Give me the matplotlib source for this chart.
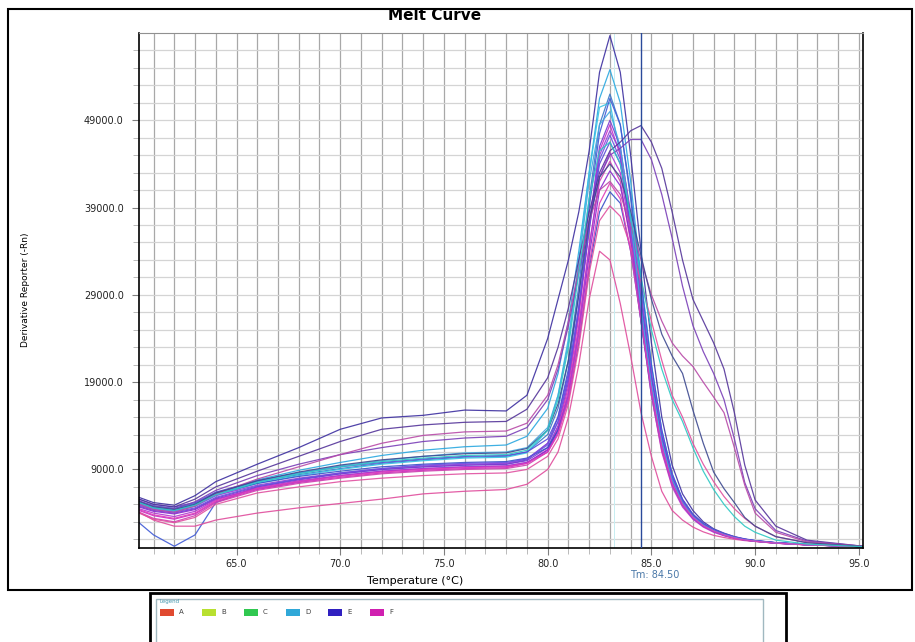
import matplotlib
matplotlib.use("Agg")
import matplotlib.pyplot as plt
from matplotlib.patches import Rectangle
import numpy as np

# temperature grid (deg C) shared by all wells
temps = [60.3, 61, 62, 63, 64, 66, 68, 70, 72, 74, 76, 78, 79, 80, 80.5, 81, 81.5, 82,
         82.5, 83, 83.5, 84, 84.5, 85, 85.5, 86, 86.5, 87, 87.5, 88, 88.5, 89, 89.5,
         90, 91, 92.5, 95.2]

# derivative reporter values, one list per well
w01 = [5800, 5200, 4900, 6000, 7600, 9600, 11500, 13600, 14900, 15200, 15800, 15700, 17500, 24000, 28500, 33000, 38500, 45500, 54500, 58700, 54500, 45000, 34000, 23500, 15000, 9500, 6200, 4300, 3000, 2200, 1700, 1300, 1000, 850, 600, 400, 150]
w02 = [5200, 4600, 4300, 5000, 6200, 7800, 8900, 9800, 10600, 11200, 11600, 11800, 12800, 16000, 20000, 26000, 34000, 43000, 51500, 54800, 51000, 42000, 31000, 21000, 13500, 8500, 5500, 3800, 2800, 2100, 1600, 1250, 1000, 850, 600, 400, 150]
w03 = [5400, 4800, 4500, 5100, 6300, 7600, 8400, 9100, 9700, 10100, 10400, 10500, 11000, 13000, 16000, 21500, 30000, 40000, 48500, 52000, 48500, 40000, 29500, 20000, 12800, 8000, 5300, 3700, 2700, 2000, 1550, 1200, 950, 800, 580, 380, 150]
w04 = [5000, 4500, 4200, 4800, 6000, 7400, 8300, 9000, 9600, 10000, 10300, 10400, 10900, 13500, 17500, 24000, 33000, 43000, 50500, 51000, 45000, 35500, 26000, 17500, 11500, 7500, 5000, 3500, 2600, 1950, 1500, 1150, 900, 780, 560, 370, 150]
w05 = [2900, 1500, 200, 1500, 5200, 7000, 7900, 8500, 9000, 9300, 9500, 9600, 10100, 12000, 15000, 20500, 29000, 39000, 47500, 51500, 48500, 40500, 30500, 21000, 13500, 8500, 5600, 3900, 2800, 2100, 1600, 1250, 1000, 820, 600, 390, 150]
w06 = [4800, 4300, 4000, 4500, 5700, 7000, 7800, 8500, 9000, 9300, 9500, 9600, 10000, 11500, 14000, 19000, 27000, 37000, 46000, 49000, 46000, 38000, 28500, 19500, 12500, 7800, 5200, 3600, 2650, 2000, 1550, 1200, 950, 800, 580, 380, 150]
w07 = [4300, 3700, 3300, 3900, 5300, 6700, 7500, 8100, 8600, 8900, 9100, 9200, 9700, 11300, 13800, 18500, 26500, 36500, 45500, 48500, 45000, 36500, 26500, 17500, 11000, 7000, 4700, 3300, 2400, 1800, 1400, 1100, 900, 760, 550, 360, 150]
w08 = [5100, 4600, 4300, 4800, 6000, 7200, 8000, 8600, 9100, 9400, 9600, 9700, 10200, 12000, 14500, 19500, 27500, 37000, 45000, 47800, 45500, 38500, 29000, 20000, 13000, 8200, 5400, 3700, 2700, 2050, 1600, 1250, 1000, 820, 600, 390, 150]
w09 = [5600, 5000, 4700, 5200, 6400, 7700, 8600, 9300, 9800, 10200, 10500, 10600, 11000, 12500, 15000, 20000, 27500, 36500, 44000, 46500, 44000, 37000, 28000, 19500, 12800, 8200, 5500, 3800, 2800, 2100, 1650, 1300, 1050, 850, 620, 400, 150]
w10 = [4100, 3400, 3000, 3700, 5200, 6600, 7400, 8000, 8500, 8800, 9000, 9100, 9500, 11000, 13500, 18000, 25500, 34500, 42000, 44300, 42000, 35000, 26000, 17500, 11200, 7200, 4900, 3400, 2500, 1900, 1450, 1150, 920, 780, 560, 370, 150]
w11 = [4700, 4200, 3900, 4400, 5600, 6800, 7600, 8300, 8800, 9100, 9300, 9400, 9800, 11200, 13500, 17500, 24500, 33500, 41000, 43200, 41500, 35500, 27000, 18500, 12000, 7700, 5200, 3600, 2650, 2000, 1550, 1200, 950, 800, 580, 380, 150]
w12 = [5300, 4800, 4500, 5000, 6200, 7400, 8200, 8800, 9300, 9600, 9800, 9900, 10300, 11500, 13500, 17000, 23500, 32000, 38500, 40800, 39500, 34000, 26000, 18000, 11800, 7600, 5100, 3600, 2650, 2000, 1550, 1200, 950, 800, 580, 380, 150]
w13 = [4000, 3300, 2900, 3500, 5000, 6300, 7000, 7600, 8000, 8300, 8500, 8600, 9000, 10500, 12500, 16500, 23000, 31500, 37500, 39200, 38000, 34500, 30500, 26000, 21500, 17500, 15000, 12000, 9600, 7600, 5900, 4500, 3400, 2500, 1300, 600, 180]
w14 = [4100, 3200, 2500, 2500, 3200, 4000, 4600, 5100, 5600, 6200, 6500, 6700, 7300, 9000, 11000, 15000, 21000, 28500, 34000, 33000, 28000, 22000, 15500, 10500, 6500, 4300, 3200, 2400, 1850, 1450, 1200, 1000, 850, 750, 550, 360, 150]
w15 = [4900, 4400, 4100, 4600, 5800, 7100, 7900, 8600, 9100, 9500, 9700, 9800, 10200, 11800, 14500, 19500, 27500, 37000, 44500, 47300, 44500, 36500, 27000, 18000, 11500, 7300, 4900, 3400, 2500, 1900, 1450, 1150, 920, 780, 560, 370, 150]
w16 = [4500, 4000, 3600, 4200, 5500, 6900, 7700, 8300, 8800, 9100, 9300, 9400, 9800, 11000, 13200, 17500, 25000, 34500, 42500, 45300, 43000, 36000, 27000, 18500, 11800, 7500, 5000, 3500, 2550, 1950, 1500, 1150, 920, 780, 560, 370, 150]
w17 = [5300, 4800, 4500, 5000, 6200, 7600, 8600, 9400, 10000, 10500, 10900, 11000, 11500, 13800, 17500, 23500, 32500, 42000, 48500, 50000, 46000, 37500, 27500, 18800, 12200, 7800, 5200, 3600, 2650, 2000, 1550, 1200, 950, 800, 580, 380, 150]
w18 = [4400, 3800, 3400, 4000, 5400, 6800, 7600, 8200, 8700, 9000, 9200, 9300, 9700, 11000, 13000, 17000, 24000, 32500, 39500, 41800, 40000, 34000, 26000, 18000, 11600, 7400, 5000, 3500, 2550, 1950, 1500, 1150, 920, 780, 560, 370, 150]
# late melting wells with a shoulder near 88 C
w19 = [5600, 5000, 4700, 5600, 7000, 8800, 10500, 12200, 13600, 14100, 14400, 14500, 15900, 19500, 23000, 27500, 33000, 38500, 43000, 45500, 46500, 47800, 48400, 46500, 43500, 38500, 33000, 28500, 26000, 23500, 20500, 15500, 9500, 5500, 2500, 900, 200]
w20 = [5400, 4800, 4500, 5300, 6600, 8300, 9600, 10700, 11500, 12200, 12600, 12800, 13800, 17000, 20500, 25500, 31500, 37500, 42500, 45000, 45800, 46800, 46800, 44500, 40500, 35500, 30000, 25500, 22500, 20000, 17000, 12500, 7500, 4500, 2000, 800, 200]
w21 = [5000, 4400, 4100, 4800, 6200, 7900, 9300, 10700, 12000, 12900, 13300, 13400, 14300, 17500, 21000, 26000, 32000, 37500, 41000, 42000, 40500, 37000, 33000, 29000, 26000, 23500, 22000, 20800, 19000, 17300, 15500, 11500, 7200, 4000, 1800, 700, 200]
w22 = [5300, 4700, 4400, 5000, 6300, 7700, 8700, 9500, 10100, 10500, 10800, 10900, 11400, 13500, 16500, 21500, 29000, 37500, 42500, 44000, 42500, 38500, 33500, 28500, 24500, 22000, 20000, 15800, 12000, 8700, 6800, 5200, 3500, 2500, 1300, 600, 180]
w23 = [5200, 4600, 4300, 4900, 6100, 7500, 8500, 9300, 9900, 10300, 10600, 10700, 11200, 13500, 17000, 23000, 31500, 40000, 45500, 46500, 44000, 38000, 31000, 25000, 20500, 17000, 14500, 11500, 8800, 6700, 5000, 3600, 2500, 1800, 900, 450, 150]

wells = [w01, w02, w03, w04, w05, w06, w07, w08, w09, w10, w11, w12,
         w13, w14, w15, w16, w17, w18, w19, w20, w21, w22, w23]
well_colors = ["#3d2fa0", "#2aa8e0", "#3a78c8", "#38c4e4", "#3f5ad6", "#7a3ad0",
               "#c62ec8", "#9a40d8", "#5a48d8", "#d040b0", "#8a2ad0", "#3850c8",
               "#e050a0", "#e04c9c", "#6a50e0", "#b038d0", "#45a8e0", "#e03cb8",
               "#55359a", "#7a3fb8", "#b84aa8", "#3e4a90", "#2ec8c4"]

legend_names = ["A", "B", "C", "D", "E", "F"]
legend_colors = ["#e04a30", "#b8e030", "#30c850", "#30a8d8", "#3020c0", "#d020b0"]
y_ticks = [9000, 19000, 29000, 39000, 49000]
x_ticks = [65, 70, 75, 80, 85, 90, 95]
tm_value = 84.5

W, H = 915, 642


def fx(px):
    return px / W


def fy(py):
    return 1 - py / H


fig = plt.figure(figsize=(9.15, 6.42), dpi=100)
fig.patch.set_facecolor("white")

# outer frame around the plot panel
fig.patches.append(Rectangle((fx(8), fy(590)), fx(904), 581 / H, transform=fig.transFigure,
                             fill=False, edgecolor="black", linewidth=1.5))

ax = fig.add_axes([fx(139), fy(548), fx(863) - fx(139), (548 - 33) / H])
ax.set_xlim(60.3, 95.2)
ax.set_ylim(0, 59000)

# grid: every degree, every 2000 units
for t in np.arange(61, 96, 1):
    ax.axvline(t, color="#a8a8a8", linewidth=0.9, zorder=0)
for v in np.arange(1000, 59000, 2000):
    ax.axhline(v, color="#d4d4d4", linewidth=0.9, zorder=0)

for vals, col in zip(wells, well_colors):
    ax.plot(temps, vals, color=col, linewidth=0.9, alpha=0.9)

ax.axvline(83.2, color="#c8eef2", linewidth=0.7, zorder=1)
ax.axvline(tm_value, color="#2a4a9a", linewidth=1.0, zorder=5)

ax.set_xticks(x_ticks)
ax.set_xticklabels(["%.1f" % t for t in x_ticks])
ax.set_xticks(np.arange(61, 96, 1), minor=True)
ax.set_yticks(y_ticks)
ax.set_yticklabels(["%.1f" % v for v in y_ticks])
ax.set_yticks(np.arange(1000, 59000, 2000), minor=True)
ax.tick_params(axis="both", which="major", labelsize=7, length=5, color="#808080",
               labelcolor="#222222")
ax.tick_params(axis="both", which="minor", length=4, color="#b0b0b0")
ax.tick_params(axis="x", pad=3)
ax.tick_params(axis="y", pad=6)
for side in ["left", "bottom", "right"]:
    ax.spines[side].set_color("black")
    ax.spines[side].set_linewidth(1.2)
ax.spines["top"].set_color("#909090")

fig.text(fx(435), fy(15), "Melt Curve", ha="center", va="center", fontsize=11,
         fontweight="bold")
fig.text(fx(415), fy(581), "Temperature (\u00b0C)", ha="center", va="center", fontsize=8)
fig.text(fx(26), fy(290), "Derivative Reporter (-Rn)", ha="center", va="center",
         rotation=90, fontsize=6.5)
fig.text(fx(655), fy(575), "Tm: %.2f" % tm_value, ha="center", va="center", fontsize=7,
         color="#4a78a8")

# legend panel below the chart
fig.patches.append(Rectangle((fx(150), fy(650)), fx(636), 57 / H, transform=fig.transFigure,
                             fill=False, edgecolor="black", linewidth=2))
fig.patches.append(Rectangle((fx(156), fy(650)), fx(607), 51 / H, transform=fig.transFigure,
                             fill=False, edgecolor="#a0b8c0", linewidth=1))
fig.text(fx(160), fy(602), "Legend", fontsize=4, color="#4a9ab0", va="center")
x0 = 160
for name, col in zip(legend_names, legend_colors):
    fig.patches.append(Rectangle((fx(x0), fy(616)), fx(14), 7 / H, transform=fig.transFigure,
                                 facecolor=col, edgecolor="none"))
    fig.text(fx(x0 + 19), fy(612.5), name, fontsize=5, color="#404040", va="center")
    x0 += 42

fig.savefig("out.png", dpi=100)
